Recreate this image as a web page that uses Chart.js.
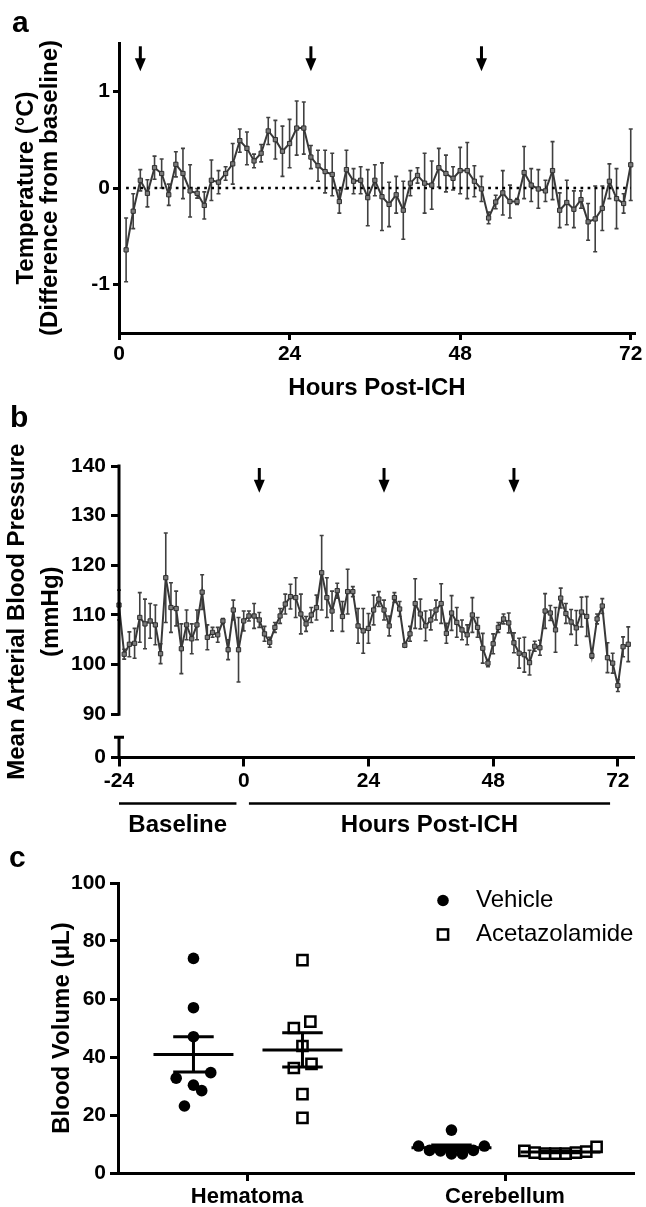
<!DOCTYPE html>
<html>
<head>
<meta charset="utf-8">
<script src="https://cdn.jsdelivr.net/npm/chart.js@4.4.1/dist/chart.umd.min.js"></script>
<style>
  body { margin: 0; background: #fff; }
  #page { position: relative; width: 646px; height: 1207px; overflow: hidden; }
  canvas { position: absolute; left: 0; }
  .panel { position: absolute; z-index: 2; font: bold 30px 'Liberation Sans', Arial, sans-serif; line-height: 30px; }
</style>
</head>
<body>
<div id="page">
  <canvas id="tempChart" width="646" height="400" style="top:0"></canvas>
  <canvas id="mapChart" width="646" height="445" style="top:400px"></canvas>
  <canvas id="volChart" width="646" height="362" style="top:845px"></canvas>
  <div class="panel" style="left:12px;top:7px">a</div>
  <div class="panel" style="left:10px;top:402px">b</div>
  <div class="panel" style="left:9px;top:842px">c</div>
</div>
<script>
// ---- a: temperature, difference from baseline ----
const tempHours = [1, 2, 3, 4, 5, 6, 7, 8, 9, 10, 11, 12, 13, 14, 15, 16, 17, 18, 19, 20, 21, 22, 23, 24,
  25, 26, 27, 28, 29, 30, 31, 32, 33, 34, 35, 36, 37, 38, 39, 40, 41, 42, 43, 44, 45, 46, 47, 48,
  49, 50, 51, 52, 53, 54, 55, 56, 57, 58, 59, 60, 61, 62, 63, 64, 65, 66, 67, 68, 69, 70, 71, 72];
const tempMean = [-0.64, -0.24, 0.08, -0.055, 0.21, 0.15, -0.07, 0.245, 0.15, -0.03, -0.055, -0.18,
  0.08, 0.06, 0.15, 0.25, 0.49, 0.41, 0.28, 0.36, 0.59, 0.50, 0.38, 0.46,
  0.62, 0.62, 0.32, 0.23, 0.17, 0.14, -0.14, 0.19, 0.07, 0.08, -0.10, 0.08,
  -0.09, -0.17, -0.07, -0.23, 0.05, 0.13, 0.05, 0.03, 0.21, 0.15, 0.10, 0.18,
  0.18, 0.07, -0.01, -0.31, -0.145, -0.05, -0.14, -0.14, 0.16, 0.03, -0.01, -0.03,
  0.18, -0.23, -0.15, -0.22, -0.12, -0.35, -0.32, -0.21, 0.07, -0.11, -0.16, 0.24];
const tempSem = [0.33, 0.18, 0.11, 0.14, 0.12, 0.15, 0.11, 0.13, 0.26, 0.27, 0.05, 0.14,
  0.21, 0.12, 0.07, 0.21, 0.12, 0.17, 0.07, 0.09, 0.14, 0.2, 0.26, 0.25,
  0.28, 0.27, 0.12, 0.16, 0.22, 0.22, 0.12, 0.2, 0.13, 0.14, 0.29, 0.16,
  0.35, 0.23, 0.19, 0.30, 0.13, 0.08, 0.31, 0.25, 0.2, 0.19, 0.12, 0.24,
  0.29, 0.16, 0.13, 0.06, 0.07, 0.23, 0.17, 0.03, 0.27, 0.17, 0.2, 0.11,
  0.3, 0.18, 0.23, 0.19, 0.09, 0.19, 0.34, 0.23, 0.18, 0.31, 0.1, 0.37];
const tempXTicks = [0, 24, 48, 72];
const tempYTicks = [-1, 0, 1];
const tempArrowHours = [3, 27, 51];

// ---- b: mean arterial blood pressure ----
const mapHours = [-24, -23, -22, -21, -20, -19, -18, -17, -16, -15, -14, -13, -12, -11, -10, -9, -8, -7, -6, -5, -4, -3, -2, -1,
  0, 1, 2, 3, 4, 5, 6, 7, 8, 9, 10, 11, 12, 13, 14, 15, 16, 17, 18, 19, 20, 21, 22, 23,
  24, 25, 26, 27, 28, 29, 30, 31, 32, 33, 34, 35, 36, 37, 38, 39, 40, 41, 42, 43, 44, 45, 46, 47,
  48, 49, 50, 51, 52, 53, 54, 55, 56, 57, 58, 59, 60, 61, 62, 63, 64, 65, 66, 67, 68, 69, 70, 71,
  72, 73, 74];
const mapMean = [112, 102.1, 104.1, 104.3, 109.5, 108.2, 108.8, 108, 102.2, 117.5,
  111.5, 111.3, 103.2, 108, 105.2, 108, 114.6, 105.5, 106.5, 106,
  108.8, 103, 111, 103, 108.8, 109.8, 109.8, 109, 106.2, 104.5,
  107.5, 109.8, 112.2, 113.7, 113.5, 110.2, 108.2, 110, 111.5, 118.5,
  113.5, 110.8, 114.9, 109.7, 114.7, 114.7, 107.8, 106.8, 107.3, 111,
  113.2, 111, 107.8, 113.5, 111.2, 103.9, 106.2, 112.3, 110.2, 107.8,
  109, 111, 112.3, 106.3, 110.4, 108.5, 107, 106, 110, 107.5,
  103.3, 100.3, 104.2, 107.5, 109.2, 108.4, 104.4, 102.3, 102, 100.4,
  103.7, 103.4, 110.8, 110.4, 107, 113.4, 110.3, 108.6, 107.4, 110.6,
  109.7, 101.8, 109.2, 111.8, 101.4, 100.3, 95.8, 103.6, 104.1];
const mapSem = [3, 1, 2.5, 3, 5, 5, 3.5, 4, 2, 9,
  5, 3.5, 5, 3, 3, 3, 3.5, 2.5, 1, 1.5,
  0.5, 2, 2, 6.5, 2, 1, 2.5, 1.5, 1.5, 1,
  1, 1.5, 2, 2.5, 4, 4, 1.5, 1.5, 2.5, 7.5,
  4, 4, 1.5, 3, 4.5, 1, 3.5, 4.5, 3, 3,
  1.5, 2, 2, 1, 1.5, 0.3, 1.5, 5, 3, 3,
  2, 2, 4, 2, 3.5, 3, 2, 2, 3.5, 2,
  3, 0.7, 2, 1, 1, 2, 2, 3, 3.5, 2.5,
  1, 1.5, 3.5, 1.5, 4.5, 2, 2, 2.5, 3.5, 3,
  4, 0.5, 1, 1.5, 3, 2, 1.2, 2, 3.5];
const mapXTicks = [-24, 0, 24, 48, 72];
const mapYTicks = [90, 100, 110, 120, 130, 140];
const mapArrowHours = [3, 27, 52];
const periodNames = ['Baseline', 'Hours Post-ICH'];
const periodStart = [-24, 1];
const periodEnd = [-1.4, 70.5];

// ---- c: blood volume ----
const regions = ['Hematoma', 'Cerebellum'];
const groups = ['Vehicle', 'Acetazolamide'];
const hemVehicle = [74, 57, 47, 34.6, 32.7, 30.3, 28.4, 23.1];
const hemAcet = [73.4, 52.2, 50, 43.8, 37.6, 36.2, 27.2, 19];
const cbVehicle = [9.3, 7.8, 7.6, 6.6, 14.8, 6.6, 7.8, 9.3];
const cbAcet = [7.6, 7, 6.7, 6.7, 6.7, 7, 7.4, 9];
const volYTicks = [0, 20, 40, 60, 80, 100];

// scatter spread of the dots inside a column (x units)
const hemVehicleJitter = [0, 0, 0, 0.134, -0.134, 0, 0.064, -0.07];
const hemAcetJitter = [0, 0.061, -0.067, 0, 0.07, -0.067, 0, 0];
const cbVehicleJitter = [-0.255, -0.17, -0.085, 0, 0, 0.085, 0.17, 0.255];
const cbAcetJitter = [-0.28, -0.2, -0.12, -0.04, 0.04, 0.12, 0.2, 0.28];
const regionX = [1, 3];
const groupOffset = [-0.415, 0.43];

const fontFamily = "'Liberation Sans', Arial, sans-serif";
const tickFont = {family: fontFamily, size: 21, weight: 'bold', lineHeight: 1.2};
const titleFont = {family: fontFamily, size: 24, weight: 'bold', lineHeight: 1};

function gridStyle(len) {
    return {drawOnChartArea: false, drawTicks: true, tickLength: len, tickWidth: 3, tickColor: '#000'};
}
const axisBorder = {display: true, color: '#000', width: 3};

const errorBars = {
    id: 'errorBars',
    beforeDatasetsDraw(chart) {
        const {ctx, scales: {x, y}} = chart;
        chart.data.datasets.forEach(ds => {
            if (!ds.errorBars) return;
            ctx.save();
            ctx.strokeStyle = '#404040';
            ctx.lineWidth = 1.6;
            ds.data.forEach((p, i) => {
                const px = x.getPixelForValue(p.x);
                const hi = y.getPixelForValue(p.y + ds.errorBars[i]);
                const lo = y.getPixelForValue(p.y - ds.errorBars[i]);
                ctx.beginPath();
                ctx.moveTo(px, hi); ctx.lineTo(px, lo);
                ctx.moveTo(px - 2, hi); ctx.lineTo(px + 2, hi);
                ctx.moveTo(px - 2, lo); ctx.lineTo(px + 2, lo);
                ctx.stroke();
            });
            ctx.restore();
        });
    }
};

function arrowPlugin(hours, from, to) {
    return {
        id: 'doseArrows',
        afterDatasetsDraw(chart) {
            const {ctx, scales: {x, y}} = chart;
            const top = y.getPixelForValue(from);
            const tip = y.getPixelForValue(to);
            ctx.save();
            ctx.fillStyle = '#000';
            hours.forEach(h => {
                const px = x.getPixelForValue(h);
                ctx.fillRect(px - 1.5, top, 3, tip - top - 12);
                ctx.beginPath();
                ctx.moveTo(px - 5.5, tip - 13);
                ctx.lineTo(px + 5.5, tip - 13);
                ctx.lineTo(px, tip);
                ctx.closePath();
                ctx.fill();
            });
            ctx.restore();
        }
    };
}

// ---------------- a ----------------
const ctx1 = document.getElementById('tempChart');
new Chart(ctx1, {
    type: 'line',
    data: {
        datasets: [{
            data: tempHours.map((h, i) => ({x: h, y: tempMean[i]})),
            errorBars: tempSem,
            borderColor: '#383838',
            borderWidth: 2,
            pointStyle: 'rect',
            pointRadius: 3,
            pointBackgroundColor: '#7a7a7a',
            pointBorderColor: '#2e2e2e',
            pointBorderWidth: 1,
            tension: 0,
            clip: false,
            order: 0
        }, {
            data: [{x: tempHours[0], y: 0}, {x: tempHours[tempHours.length - 1], y: 0}],
            borderColor: '#000',
            borderWidth: 2.7,
            borderDash: [2.7, 4.4],
            pointRadius: 0,
            order: 1
        }]
    },
    options: {
        responsive: false,
        animation: false,
        events: [],
        layout: {padding: {top: 43, right: 11, left: 0, bottom: 0}},
        plugins: {legend: {display: false}, tooltip: {enabled: false}},
        scales: {
            x: {
                type: 'linear', min: 0, max: 72.6,
                afterBuildTicks: s => { s.ticks = tempXTicks.map(v => ({value: v})); },
                afterFit: s => { s.height = 67; },
                grid: gridStyle(7),
                border: axisBorder,
                ticks: {color: '#000', font: tickFont, padding: 2, maxRotation: 0, autoSkip: false},
                title: {display: true, text: 'Hours Post-ICH', color: '#000', font: titleFont, padding: {top: 0, bottom: 0}}
            },
            y: {
                min: -1.5, max: 1.5,
                afterBuildTicks: s => { s.ticks = tempYTicks.map(v => ({value: v})); },
                afterFit: s => { s.width = 119; },
                grid: gridStyle(6),
                border: axisBorder,
                ticks: {color: '#000', font: tickFont, padding: 3},
                title: {display: true, text: ['Temperature (°C)', '(Difference from baseline)'], color: '#000', font: titleFont, padding: {top: 14, bottom: 0}}
            }
        }
    },
    plugins: [errorBars, arrowPlugin(tempArrowHours, 1.466, 1.207)]
});

// ---------------- b ----------------
const mapAxisMin = 81.3;
const mapBreakTop = 85.4;
const brokenAxis = {
    id: 'brokenAxis',
    afterDraw(chart) {
        const {ctx, chartArea, scales: {x, y}} = chart;
        const ax = chartArea.left;
        ctx.save();
        ctx.strokeStyle = '#000';
        ctx.lineWidth = 3;
        ctx.beginPath();
        ctx.moveTo(ax, y.getPixelForValue(mapYTicks[mapYTicks.length - 1]) - 1.5);
        ctx.lineTo(ax, y.getPixelForValue(mapYTicks[0]) + 1.5);
        ctx.moveTo(ax, y.getPixelForValue(mapBreakTop));
        ctx.lineTo(ax, chartArea.bottom + 1.5);
        ctx.moveTo(ax - 5, y.getPixelForValue(mapBreakTop));
        ctx.lineTo(ax + 5, y.getPixelForValue(mapBreakTop));
        ctx.stroke();
        // periods under the time axis
        ctx.lineWidth = 2.7;
        ctx.fillStyle = '#000';
        ctx.font = 'bold 24px ' + fontFamily;
        ctx.textAlign = 'center';
        ctx.textBaseline = 'middle';
        periodNames.forEach((name, i) => {
            const x0 = x.getPixelForValue(periodStart[i]);
            const x1 = x.getPixelForValue(periodEnd[i]);
            ctx.beginPath();
            ctx.moveTo(x0, chartArea.bottom + 46);
            ctx.lineTo(x1, chartArea.bottom + 46);
            ctx.stroke();
            ctx.fillText(name, (x0 + x1) / 2, chartArea.bottom + 68);
        });
        ctx.restore();
    }
};

const ctx2 = document.getElementById('mapChart');
new Chart(ctx2, {
    type: 'line',
    data: {
        datasets: [{
            data: mapHours.map((h, i) => ({x: h, y: mapMean[i]})),
            errorBars: mapSem,
            borderColor: '#383838',
            borderWidth: 2,
            pointStyle: 'rect',
            pointRadius: 3,
            pointBackgroundColor: '#7a7a7a',
            pointBorderColor: '#2e2e2e',
            pointBorderWidth: 1,
            tension: 0,
            clip: false
        }]
    },
    options: {
        responsive: false,
        animation: false,
        events: [],
        layout: {padding: {top: 66, right: 11.5, left: 0, bottom: 0}},
        plugins: {legend: {display: false}, tooltip: {enabled: false}},
        scales: {
            x: {
                type: 'linear', min: -24, max: 75.2,
                afterBuildTicks: s => { s.ticks = mapXTicks.map(v => ({value: v})); },
                afterFit: s => { s.height = 87.5; },
                grid: gridStyle(9),
                border: axisBorder,
                ticks: {color: '#000', font: tickFont, padding: 2.6, maxRotation: 0, autoSkip: false}
            },
            y: {
                min: mapAxisMin, max: 140,
                afterBuildTicks: s => { s.ticks = [mapAxisMin].concat(mapYTicks).map(v => ({value: v})); },
                afterFit: s => { s.width = 119; },
                grid: gridStyle(8),
                border: {display: false},
                ticks: {color: '#000', font: tickFont, padding: 5, callback: v => (v < mapBreakTop ? '0' : v)},
                title: {display: true, text: ['Mean Arterial Blood Pressure', '(mmHg)'], color: '#000',
                    font: {family: fontFamily, size: 24, weight: 'bold', lineHeight: 1.42}, padding: {top: 0, bottom: 0}}
            }
        }
    },
    plugins: [errorBars, brokenAxis, arrowPlugin(mapArrowHours, 139.6, 134.6)]
});

// ---------------- c ----------------
function groupPoints(values, jitter, center) {
    return values.map((v, i) => ({x: center + jitter[i], y: v}));
}
const columns = [
    {values: hemVehicle, center: regionX[0] + groupOffset[0]},
    {values: hemAcet, center: regionX[0] + groupOffset[1]},
    {values: cbVehicle, center: regionX[1] + groupOffset[0]},
    {values: cbAcet, center: regionX[1] + groupOffset[1]}
];

const meanSem = {
    id: 'meanSem',
    afterDatasetsDraw(chart) {
        const {ctx, scales: {x, y}} = chart;
        ctx.save();
        ctx.strokeStyle = '#000';
        ctx.lineWidth = 3;
        columns.forEach(col => {
            const n = col.values.length;
            const mean = col.values.reduce((a, b) => a + b, 0) / n;
            const sd = Math.sqrt(col.values.reduce((a, b) => a + (b - mean) * (b - mean), 0) / (n - 1));
            const sem = sd / Math.sqrt(n);
            const cx = x.getPixelForValue(col.center);
            const w = x.getPixelForValue(col.center + 0.31) - cx;
            const c = x.getPixelForValue(col.center + 0.157) - cx;
            const ym = y.getPixelForValue(mean);
            const yh = y.getPixelForValue(mean + sem);
            const yl = y.getPixelForValue(mean - sem);
            ctx.beginPath();
            ctx.moveTo(cx - w, ym); ctx.lineTo(cx + w, ym);
            ctx.moveTo(cx, yh); ctx.lineTo(cx, yl);
            ctx.moveTo(cx - c, yh); ctx.lineTo(cx + c, yh);
            ctx.moveTo(cx - c, yl); ctx.lineTo(cx + c, yl);
            ctx.stroke();
        });
        // legend
        ctx.fillStyle = '#000';
        ctx.beginPath();
        ctx.arc(443, 55.5, 5.8, 0, Math.PI * 2);
        ctx.fill();
        ctx.lineWidth = 2.5;
        ctx.fillStyle = '#fff';
        ctx.fillRect(437.9, 84.4, 10.2, 10.2);
        ctx.strokeRect(437.9, 84.4, 10.2, 10.2);
        ctx.fillStyle = '#000';
        ctx.font = '24px ' + fontFamily;
        ctx.textAlign = 'left';
        ctx.textBaseline = 'middle';
        ctx.fillText(groups[0], 476, 55.5);
        ctx.fillText(groups[1], 476, 89);
        ctx.restore();
    }
};

const ctx3 = document.getElementById('volChart');
new Chart(ctx3, {
    type: 'scatter',
    data: {
        datasets: [{
            label: groups[0],
            data: groupPoints(hemVehicle, hemVehicleJitter, columns[0].center)
                .concat(groupPoints(cbVehicle, cbVehicleJitter, columns[2].center)),
            pointStyle: 'circle',
            pointRadius: 5.8,
            pointBackgroundColor: '#000',
            pointBorderWidth: 0,
            clip: false
        }, {
            label: groups[1],
            data: groupPoints(hemAcet, hemAcetJitter, columns[1].center)
                .concat(groupPoints(cbAcet, cbAcetJitter, columns[3].center)),
            pointStyle: 'rect',
            pointRadius: 7.2,
            pointBackgroundColor: '#fff',
            pointBorderColor: '#000',
            pointBorderWidth: 2.5,
            clip: false
        }]
    },
    options: {
        responsive: false,
        animation: false,
        events: [],
        layout: {padding: {top: 38, right: 12, left: 0, bottom: 0}},
        plugins: {legend: {display: false}, tooltip: {enabled: false}},
        scales: {
            x: {
                type: 'linear', min: 0, max: 4,
                afterBuildTicks: s => { s.ticks = regionX.map(v => ({value: v})); },
                afterFit: s => { s.height = 34; },
                grid: gridStyle(8),
                border: axisBorder,
                ticks: {color: '#000', font: {family: fontFamily, size: 22, weight: 'bold', lineHeight: 1.2}, padding: 2.8,
                    maxRotation: 0, autoSkip: false, callback: (v, i) => regions[i]}
            },
            y: {
                min: 0, max: 100,
                afterBuildTicks: s => { s.ticks = volYTicks.map(v => ({value: v})); },
                afterFit: s => { s.width = 118; },
                grid: gridStyle(8),
                border: axisBorder,
                ticks: {color: '#000', font: tickFont, padding: 4},
                title: {display: true, text: 'Blood Volume (μL)', color: '#000', font: titleFont, padding: {top: 50, bottom: 0}}
            }
        }
    },
    plugins: [meanSem]
});
</script>
</body>
</html>
